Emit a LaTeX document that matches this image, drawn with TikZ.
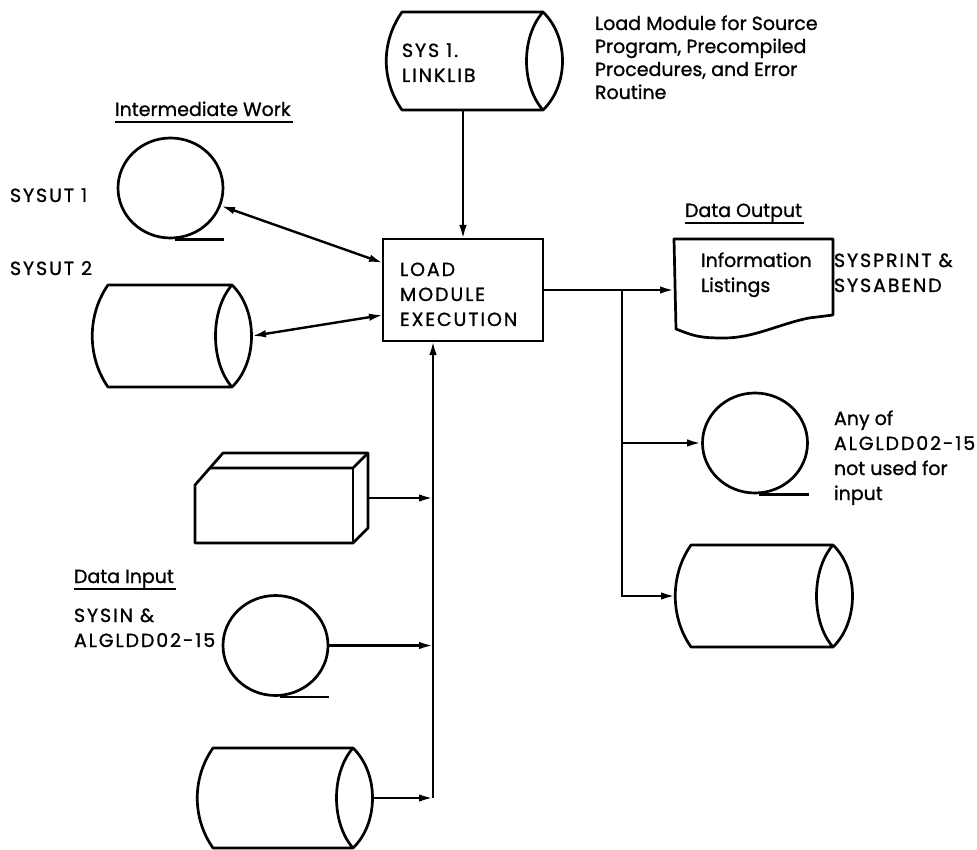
\documentclass[tikz,border=0pt]{standalone}
\usepackage{fontspec}
\setmainfont{Poppins}[FakeBold=1.0]
\newfontfamily\capsfont{Poppins}[LetterSpace=10,FakeBold=1.0]
\usetikzlibrary{arrows.meta,calc,shapes.geometric}
\tikzset{
  shapeline/.style={line width=2.7pt, line join=round},
  conn/.style={line width=2.4pt},
  arr/.style={conn, -{Latex[length=14pt,width=7.5pt]}},
  dblarr/.style={conn, {Latex[length=14pt,width=7.5pt]}-{Latex[length=14pt,width=7.5pt]}},
  blank/.style={inner sep=0pt, outer sep=0pt, draw=none, rectangle},
  tape/.style={ellipse, draw, line width=2.7pt, inner sep=0pt, minimum width=105pt, minimum height=100pt},
  txt/.style={inner sep=0pt, outer sep=0pt, anchor=base west, align=left, font=\fontsize{19}{25}\selectfont},
  captxt/.style={txt, font=\fontsize{19}{25}\capsfont},
  txtsrc/.style={txt, font=\fontsize{19}{23}\selectfont},
}
\newcommand\drumshape[1]{%
  \draw[shapeline] let \p1=(#1.north west), \p2=(#1.south east) in
    (\x1+16pt,\y1) -- (\x2-20pt,\y1)
      .. controls (\x2+6pt,\y1-25pt) and (\x2+6pt,\y2+25pt) .. (\x2-20pt,\y2)
      -- (\x1+16pt,\y2)
      .. controls (\x1-5pt,\y2+30pt) and (\x1-5pt,\y1-30pt) .. cycle
    (\x2-20pt,\y1) .. controls (\x2-42pt,\y1-25pt) and (\x2-42pt,\y2+25pt) .. (\x2-20pt,\y2);}
\newcommand\tapetail[1]{\draw[shapeline] ($(#1.south)+(4,0)$) -- (#1.south -| #1.east);}
\begin{document}
\begin{tikzpicture}[x=1pt,y=-1pt]
\useasboundingbox (0,0) rectangle (977,850);
\fill[white] (0,0) rectangle (977,850);

% devices
\node[blank, minimum width=177pt, minimum height=98pt] (sys1) at (474.5,61) {};
\drumshape{sys1}
\node[tape] (ut1) at (170.5,188) {};
\tapetail{ut1}
\node[blank, minimum width=160pt, minimum height=102pt] (ut2) at (172,336) {};
\drumshape{ut2}
\node[blank, draw, line width=2.7pt, minimum width=160pt, minimum height=102pt] (box) at (463,290) {};
\node[blank, minimum width=159pt, minimum height=76pt] (doc) at (753.5,277) {};
\draw[shapeline] (doc.south east) -- (doc.north east) -- (doc.north west) -- ($(doc.south west)+(2,14)$)
   .. controls +(18,7) and +(-25,0) .. ($(doc.south west)+(50,23)$)
   .. controls +(30,0) and +(-30,6) .. ($(doc.south east)+(-24,3)$) -- cycle;
\node[tape] (out1) at (755,443) {};
\tapetail{out1}
\node[blank, minimum width=178pt, minimum height=102pt] (out2) at (764,596) {};
\drumshape{out2}
\node[blank, minimum width=173pt, minimum height=90pt] (card) at (281.5,498) {};
\draw[shapeline] (card.south west) -- ($(card.north west)+(0,32)$) -- ($(card.north west)+(28,0)$)
   -- (card.north east) -- ($(card.south east)+(0,-15)$) -- ($(card.south east)+(-15,0)$) -- cycle;
\draw[shapeline] ($(card.north west)+(15,15)$) -- ($(card.north east)+(-15,15)$) -- (card.north east);
\draw[shapeline] ($(card.north east)+(-15,15)$) -- ($(card.south east)+(-15,0)$);
\node[tape] (in2) at (275.5,645.5) {};
\tapetail{in2}
\node[blank, minimum width=176pt, minimum height=100pt] (in3) at (285,798) {};
\drumshape{in3}

% texts (base = baseline of last line)
\node[txtsrc] (tsrc) at (595,99) {Load Module for Source\\Program, Precompiled\\Procedures, and Error\\Routine};
\node[captxt] (tsys1) at (402,82) {SYS 1.\\LINKLIB};
\node[captxt] (tbox) at (400,326) {LOAD\\MODULE\\EXECUTION};
\node[captxt] (tut1) at (10,202) {SYSUT 1};
\node[captxt] (tut2) at (10,275) {SYSUT 2};
\node[txt] (tiw) at (115,116) {Intermediate Work};
\draw[conn, line width=1.8pt] ($(tiw.base west)+(0,6)$) -- ($(tiw.base east)+(2,6)$);
\node[txt] (tdo) at (685,217) {Data Output};
\draw[conn, line width=1.8pt] ($(tdo.base west)+(0,6)$) -- ($(tdo.base east)+(2,6)$);
\node[txt] (tinfo) at (701,292) {Information\\Listings};
\node[captxt] (tsp) at (834,292) {SYSPRINT \&\\SYSABEND};
\node[txt] (tany) at (834,500) {Any of\\{\capsfont ALGLDD02-15}\\not used for\\input};
\node[txt] (tdi) at (74,583) {Data Input};
\draw[conn, line width=1.8pt] ($(tdi.base west)+(0,6)$) -- ($(tdi.base east)+(2,6)$);
\node[captxt] (tsysin) at (74,647) {SYSIN \&\\ALGLDD02-15};

% connectors
\coordinate (busb) at (433,798);
\coordinate (br) at (622,290);
\draw[arr] (sys1.south -| box.north) -- (box.north);
\draw[dblarr] (ut1) -- ($(box.north west)!0.235!(box.south west)$);
\draw[dblarr] (ut2.east) -- ($(box.north west)!0.745!(box.south west)$);
\draw[arr] (box.east) -- (box.east -| doc.west);
\draw[arr] (br) |- (out1.west);
\draw[arr] (br) |- (out2.west);
\draw[arr] (busb) -- (busb |- box.south);
\draw[arr] (card.east) -- (card.east -| busb);
\draw[arr] (in2.east) -- (in2.east -| busb);
\draw[arr] (in3.east) -- (busb);
\end{tikzpicture}
\end{document}
